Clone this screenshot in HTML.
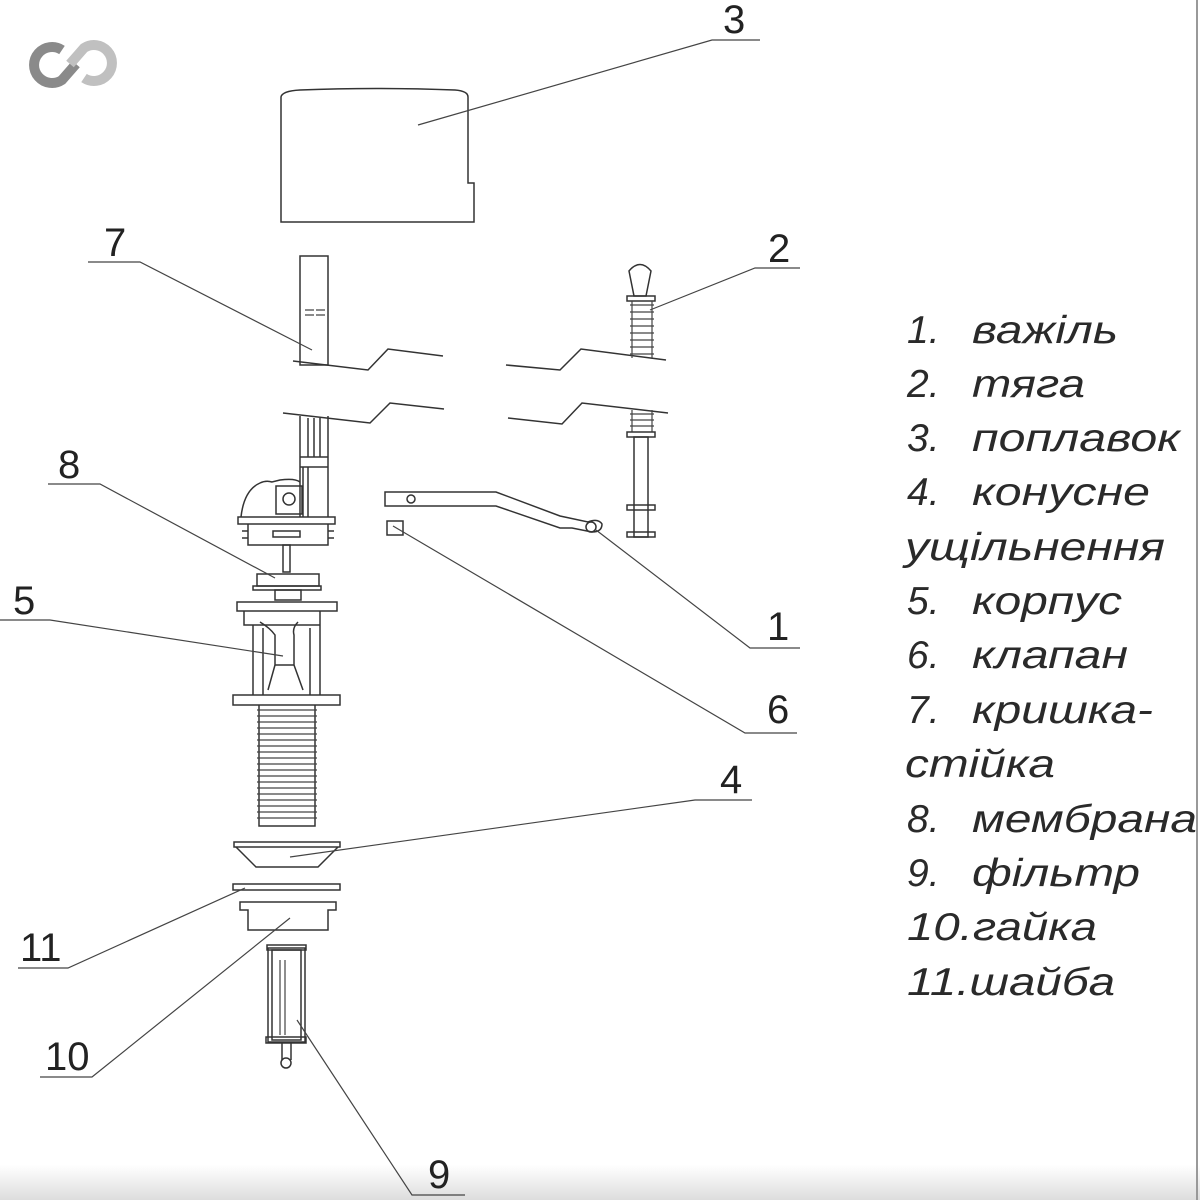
<!DOCTYPE html>
<html><head><meta charset="utf-8"><style>
html,body{margin:0;padding:0;background:#fff;width:1200px;height:1200px;overflow:hidden}
svg{display:block}
.l{fill:none;stroke:#333;stroke-width:1.5}
.t{stroke:#444;stroke-width:1.2;fill:none}
.n{font-family:"Liberation Sans",sans-serif;font-size:40px;fill:#222}
.g{font-family:"Liberation Sans",sans-serif;font-style:italic;font-size:39px;fill:#2a2a2a}
</style></head><body>
<svg width="1200" height="1200" viewBox="0 0 1200 1200">
<defs><linearGradient id="bg" x1="0" y1="0" x2="0" y2="1"><stop offset="0" stop-color="#fff"/><stop offset="1" stop-color="#ddd"/></linearGradient></defs>
<rect x="0" y="1165" width="1200" height="35" fill="url(#bg)"/>
<!-- logo -->
<path d="M62 50 A18 18 0 1 0 62 80 L76 64" stroke="#8a8a8a" stroke-width="10" fill="none"/>
<path d="M72 78 A18 18 0 1 0 72 48 L58 64" stroke="#c0c0c0" stroke-width="10" fill="none" transform="translate(12,0)"/>
<!-- cap 3 -->
<path class="l" d="M281 222 L281 97 Q282 91 300 90 Q375 87 455 90 Q468 91 468 97 L468 183 L474 183 L474 222 Z"/>
<!-- stem 7 -->
<rect class="l" x="300" y="256" width="28" height="109"/>
<path class="t" d="M305 310h9M316 310h9M305 315h9M316 315h9"/>
<path class="l" d="M293 361 L368 370 L388 349 L443 356"/>
<path class="l" d="M506 365 L560 370 L581 349 L666 360"/>
<path class="l" d="M283 413 L370 423 L390 403 L444 409"/>
<path class="l" d="M508 418 L562 424 L582 403 L668 413"/>
<path class="l" d="M300 416 V517 M328 416 V517 M308 418 V457 M314 418 V457 M320 418 V457 M300 457 H328"/>
<path class="l" d="M300 467 H328 M303 467 V517 M308 467 V517"/>
<path class="l" d="M241 517 Q244 490 260 483 Q266 480 272 482 L280 480 Q295 478 300 482"/>
<rect class="l" x="276" y="486" width="26" height="28"/>
<circle class="l" cx="289" cy="499" r="6"/>
<rect class="l" x="238" y="517" width="97" height="7"/>
<path class="l" d="M248 524 V545 H328 V524 M242 531 H248 M242 538 H248 M328 531 H334 M328 538 H334"/>
<rect class="l" x="273" y="531" width="27" height="6"/>
<rect class="l" x="283" y="545" width="7" height="27"/>
<!-- membrane 8 -->
<rect class="l" x="257" y="574" width="62" height="12"/>
<rect class="l" x="253" y="586" width="68" height="4"/>
<rect class="l" x="275" y="590" width="26" height="10"/>
<!-- housing 5 -->
<rect class="l" x="237" y="602" width="100" height="9"/>
<path class="l" d="M244 611 V625 H320 V611 M253 625 V695 M320 625 V695 M263 628 V695 M310 628 V695"/>
<path class="l" d="M260 622 Q270 628 275 635 V665 L268 690 M298 622 Q292 628 294 635 V665 L303 690 M275 665 H294"/>
<rect class="l" x="233" y="695" width="107" height="10"/>
<!-- thread -->
<path class="l" d="M259 705 V826 H315 V705"/>
<!-- cone 4 -->
<rect class="l" x="234" y="842" width="106" height="5" fill="#ccc"/>
<path class="l" d="M236 847 L256 867 H318 L338 847"/>
<!-- washer 11 -->
<rect class="l" x="233" y="884" width="107" height="6" fill="#ddd"/>
<!-- nut 10 -->
<path class="l" d="M240 902 H336 V910 H328 V930 H248 V910 H240 Z"/>
<!-- filter 9 -->
<rect class="l" x="268" y="948" width="37" height="94"/>
<rect class="l" x="267" y="945" width="39" height="5"/>
<rect class="l" x="272" y="950" width="29" height="90"/>
<path class="t" d="M280 960 V1035 M285 960 V1035"/>
<rect class="l" x="266" y="1037" width="40" height="6"/>
<path class="l" d="M282 1043 V1060 M291 1043 V1060"/>
<circle class="l" cx="286" cy="1063" r="5"/>
<!-- rod 2 -->
<path class="l" d="M629 271 Q640 258 651 271 L646 296 H634 Z"/>
<rect class="l" x="627" y="296" width="28" height="5"/>
<path class="t" d="M630 305h24M630 312h24M630 319h24M630 326h24M630 333h24M630 340h24M630 347h24M630 354h24M632 301V358M652 301V358"/>
<path class="t" d="M630 414h24M630 420h24M630 426h24M632 410V432M652 410V432"/>
<rect class="l" x="627" y="432" width="28" height="5"/>
<rect class="l" x="634" y="437" width="14" height="100"/>
<rect class="l" x="627" y="505" width="28" height="5"/>
<rect class="l" x="627" y="532" width="28" height="5"/>
<!-- lever 1 -->
<path class="l" d="M385 492 H496 L560 516 L588 522 Q598 518 602 524 Q602 532 592 532 L572 528 H560 L496 506 H385 Z"/>
<circle class="l" cx="411" cy="499" r="4"/>
<circle class="l" cx="591" cy="527" r="5"/>
<rect class="l" x="387" y="521" width="16" height="14"/>
<!-- leaders -->
<g class="t">
<path d="M418 125 L712 40 H760"/>
<path d="M312 350 L140 262 H88"/>
<path d="M650 310 L755 268 H800"/>
<path d="M275 578 L100 484 H48"/>
<path d="M283 656 L50 620 H0"/>
<path d="M596 530 L750 648 H800"/>
<path d="M393 526 L745 733 H797"/>
<path d="M290 857 L695 800 H752"/>
<path d="M245 888 L68 968 H18"/>
<path d="M290 918 L92 1077 H40"/>
<path d="M297 1020 L412 1195 H465"/>
</g>
<g class="n">
<text x="723" y="33">3</text>
<text x="104" y="256">7</text>
<text x="768" y="262">2</text>
<text x="58" y="478">8</text>
<text x="13" y="614">5</text>
<text x="767" y="640">1</text>
<text x="767" y="723">6</text>
<text x="720" y="793">4</text>
<text x="20" y="961">11</text>
<text x="45" y="1070">10</text>
<text x="428" y="1188">9</text>
</g>
<g class="g">
<text x="907" y="343">1.</text><text x="972" y="343" textLength="146" lengthAdjust="spacingAndGlyphs">важіль</text>
<text x="907" y="397">2.</text><text x="972" y="397" textLength="113" lengthAdjust="spacingAndGlyphs">тяга</text>
<text x="907" y="451">3.</text><text x="972" y="451" textLength="208" lengthAdjust="spacingAndGlyphs">поплавок</text>
<text x="907" y="505">4.</text><text x="972" y="505" textLength="178" lengthAdjust="spacingAndGlyphs">конусне</text>
<text x="905" y="560" textLength="260" lengthAdjust="spacingAndGlyphs">ущільнення</text>
<text x="907" y="614">5.</text><text x="972" y="614" textLength="150" lengthAdjust="spacingAndGlyphs">корпус</text>
<text x="907" y="668">6.</text><text x="972" y="668" textLength="156" lengthAdjust="spacingAndGlyphs">клапан</text>
<text x="907" y="723">7.</text><text x="972" y="723" textLength="181" lengthAdjust="spacingAndGlyphs">кришка-</text>
<text x="905" y="777" textLength="150" lengthAdjust="spacingAndGlyphs">стійка</text>
<text x="907" y="832">8.</text><text x="972" y="832" textLength="225" lengthAdjust="spacingAndGlyphs">мембрана</text>
<text x="907" y="886">9.</text><text x="972" y="886" textLength="168" lengthAdjust="spacingAndGlyphs">фільтр</text>
<text x="907" y="940" textLength="190" lengthAdjust="spacingAndGlyphs">10.гайка</text>
<text x="907" y="995" textLength="208" lengthAdjust="spacingAndGlyphs">11.шайба</text>
</g>
<path d="M1197 0 V1200" stroke="#999" stroke-width="2"/>
<g class="t">
<path d="M257 710h60M257 716h60M257 722h60M257 728h60M257 734h60M257 740h60M257 746h60M257 752h60M257 758h60M257 764h60M257 770h60M257 776h60M257 782h60M257 788h60M257 794h60M257 800h60M257 806h60M257 812h60M257 818h60"/>
</g>
</svg>
</body></html>
